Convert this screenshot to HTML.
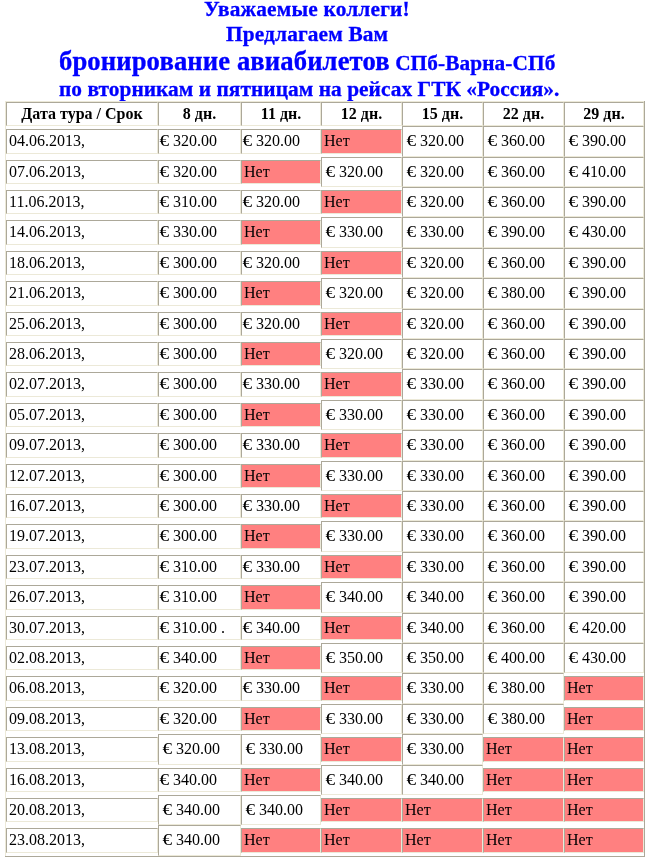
<!DOCTYPE html>
<html lang="ru"><head><meta charset="utf-8"><title>Бронирование авиабилетов</title>
<style>
html,body{margin:0;padding:0;background:#fff}
body{width:648px;height:857px;position:relative;overflow:hidden;font-family:"Liberation Serif","Times New Roman",serif;font-size:16px;color:#000}
.c{position:absolute;box-sizing:border-box;border:1px solid #aca899;border-right-color:#ece9d8;border-bottom-color:#ece9d8;background:#fff;white-space:nowrap;overflow:hidden}
.p{background:#ff8080}
.c span{position:absolute;left:2px;line-height:18px}
.f span{left:5px}
.c i{display:inline-block;font-style:normal;transform:scaleX(1.2);transform-origin:100% 50%}
.h{text-align:center;font-weight:bold}
.h span{left:0;right:0}
.t{position:absolute;white-space:nowrap;color:#00f;font-weight:bold;line-height:1;-webkit-text-stroke:0.3px #00f}
.b{position:absolute;background:#ece9d8}
.d{position:absolute;background:#aca899}
</style></head><body>
<div class="t" id="t1" style="left:204px;top:-1px;font-size:21.33px;letter-spacing:0.18px">Уважаемые коллеги!</div>
<div class="t" id="t2" style="left:226px;top:24px;font-size:21.33px;letter-spacing:0.15px">Предлагаем Вам</div>
<div class="t" id="t3" style="left:59px;top:48px;font-size:21.33px;letter-spacing:0.08px"><span style="font-size:26.67px;letter-spacing:0.1px">бронирование авиабилетов</span> СПб-Варна-СПб</div>
<div class="t" id="t4" style="left:59px;top:79px;font-size:21.33px;letter-spacing:0.055px">по вторникам и пятницам на рейсах ГТК «Россия».</div>
<div class="b" style="left:5px;top:101px;width:640px;height:1px"></div><div class="b" style="left:5px;top:101px;width:1px;height:756px"></div><div class="d" style="left:644px;top:101px;width:1px;height:756px"></div><div class="d" style="left:5px;top:856px;width:640px;height:1px"></div>
<div class="c h" style="left:6px;top:102px;width:152px;height:24px"><span style="top:2px">Дата тура / Срок</span></div><div class="c h" style="left:158px;top:102px;width:83px;height:24px"><span style="top:2px">8 дн.</span></div><div class="c h" style="left:241px;top:102px;width:80px;height:24px"><span style="top:2px">11 дн.</span></div><div class="c h" style="left:321px;top:102px;width:81px;height:24px"><span style="top:2px">12 дн.</span></div><div class="c h" style="left:402px;top:102px;width:81px;height:24px"><span style="top:2px">15 дн.</span></div><div class="c h" style="left:483px;top:102px;width:81px;height:24px"><span style="top:2px">22 дн.</span></div><div class="c h" style="left:564px;top:102px;width:80px;height:24px"><span style="top:2px">29 дн.</span></div>
<div class="c" style="left:6px;top:129px;width:152px;height:25px"><span style="top:2px">04.06.2013,</span></div><div class="c" style="left:158px;top:129px;width:83px;height:25px"><span style="top:2px"><i>€</i> 320.00</span></div><div class="c" style="left:241px;top:129px;width:80px;height:25px"><span style="top:2px"><i>€</i> 320.00</span></div><div class="c p" style="left:321px;top:129px;width:81px;height:25px"><span style="top:2px">Нет</span></div><div class="c f" style="left:402px;top:126px;width:81px;height:31px"><span style="top:5px"><i>€</i> 320.00</span></div><div class="c f" style="left:483px;top:126px;width:81px;height:31px"><span style="top:5px"><i>€</i> 360.00</span></div><div class="c f" style="left:564px;top:126px;width:80px;height:31px"><span style="top:5px"><i>€</i> 390.00</span></div>
<div class="c" style="left:6px;top:160px;width:152px;height:24px"><span style="top:2px">07.06.2013,</span></div><div class="c" style="left:158px;top:160px;width:83px;height:24px"><span style="top:2px"><i>€</i> 320.00</span></div><div class="c p" style="left:241px;top:160px;width:80px;height:24px"><span style="top:2px">Нет</span></div><div class="c f" style="left:321px;top:157px;width:81px;height:30px"><span style="top:5px"><i>€</i> 320.00</span></div><div class="c f" style="left:402px;top:157px;width:81px;height:30px"><span style="top:5px"><i>€</i> 320.00</span></div><div class="c f" style="left:483px;top:157px;width:81px;height:30px"><span style="top:5px"><i>€</i> 360.00</span></div><div class="c f" style="left:564px;top:157px;width:80px;height:30px"><span style="top:5px"><i>€</i> 410.00</span></div>
<div class="c" style="left:6px;top:190px;width:152px;height:24px"><span style="top:2px">11.06.2013,</span></div><div class="c" style="left:158px;top:190px;width:83px;height:24px"><span style="top:2px"><i>€</i> 310.00</span></div><div class="c" style="left:241px;top:190px;width:80px;height:24px"><span style="top:2px"><i>€</i> 320.00</span></div><div class="c p" style="left:321px;top:190px;width:81px;height:24px"><span style="top:2px">Нет</span></div><div class="c f" style="left:402px;top:187px;width:81px;height:30px"><span style="top:5px"><i>€</i> 320.00</span></div><div class="c f" style="left:483px;top:187px;width:81px;height:30px"><span style="top:5px"><i>€</i> 360.00</span></div><div class="c f" style="left:564px;top:187px;width:80px;height:30px"><span style="top:5px"><i>€</i> 390.00</span></div>
<div class="c" style="left:6px;top:220px;width:152px;height:25px"><span style="top:2px">14.06.2013,</span></div><div class="c" style="left:158px;top:220px;width:83px;height:25px"><span style="top:2px"><i>€</i> 330.00</span></div><div class="c p" style="left:241px;top:220px;width:80px;height:25px"><span style="top:2px">Нет</span></div><div class="c f" style="left:321px;top:217px;width:81px;height:31px"><span style="top:5px"><i>€</i> 330.00</span></div><div class="c f" style="left:402px;top:217px;width:81px;height:31px"><span style="top:5px"><i>€</i> 330.00</span></div><div class="c f" style="left:483px;top:217px;width:81px;height:31px"><span style="top:5px"><i>€</i> 390.00</span></div><div class="c f" style="left:564px;top:217px;width:80px;height:31px"><span style="top:5px"><i>€</i> 430.00</span></div>
<div class="c" style="left:6px;top:251px;width:152px;height:24px"><span style="top:2px">18.06.2013,</span></div><div class="c" style="left:158px;top:251px;width:83px;height:24px"><span style="top:2px"><i>€</i> 300.00</span></div><div class="c" style="left:241px;top:251px;width:80px;height:24px"><span style="top:2px"><i>€</i> 320.00</span></div><div class="c p" style="left:321px;top:251px;width:81px;height:24px"><span style="top:2px">Нет</span></div><div class="c f" style="left:402px;top:248px;width:81px;height:30px"><span style="top:5px"><i>€</i> 320.00</span></div><div class="c f" style="left:483px;top:248px;width:81px;height:30px"><span style="top:5px"><i>€</i> 360.00</span></div><div class="c f" style="left:564px;top:248px;width:80px;height:30px"><span style="top:5px"><i>€</i> 390.00</span></div>
<div class="c" style="left:6px;top:281px;width:152px;height:25px"><span style="top:2px">21.06.2013,</span></div><div class="c" style="left:158px;top:281px;width:83px;height:25px"><span style="top:2px"><i>€</i> 300.00</span></div><div class="c p" style="left:241px;top:281px;width:80px;height:25px"><span style="top:2px">Нет</span></div><div class="c f" style="left:321px;top:278px;width:81px;height:31px"><span style="top:5px"><i>€</i> 320.00</span></div><div class="c f" style="left:402px;top:278px;width:81px;height:31px"><span style="top:5px"><i>€</i> 320.00</span></div><div class="c f" style="left:483px;top:278px;width:81px;height:31px"><span style="top:5px"><i>€</i> 380.00</span></div><div class="c f" style="left:564px;top:278px;width:80px;height:31px"><span style="top:5px"><i>€</i> 390.00</span></div>
<div class="c" style="left:6px;top:312px;width:152px;height:24px"><span style="top:2px">25.06.2013,</span></div><div class="c" style="left:158px;top:312px;width:83px;height:24px"><span style="top:2px"><i>€</i> 300.00</span></div><div class="c" style="left:241px;top:312px;width:80px;height:24px"><span style="top:2px"><i>€</i> 320.00</span></div><div class="c p" style="left:321px;top:312px;width:81px;height:24px"><span style="top:2px">Нет</span></div><div class="c f" style="left:402px;top:309px;width:81px;height:30px"><span style="top:5px"><i>€</i> 320.00</span></div><div class="c f" style="left:483px;top:309px;width:81px;height:30px"><span style="top:5px"><i>€</i> 360.00</span></div><div class="c f" style="left:564px;top:309px;width:80px;height:30px"><span style="top:5px"><i>€</i> 390.00</span></div>
<div class="c" style="left:6px;top:342px;width:152px;height:24px"><span style="top:2px">28.06.2013,</span></div><div class="c" style="left:158px;top:342px;width:83px;height:24px"><span style="top:2px"><i>€</i> 300.00</span></div><div class="c p" style="left:241px;top:342px;width:80px;height:24px"><span style="top:2px">Нет</span></div><div class="c f" style="left:321px;top:339px;width:81px;height:30px"><span style="top:5px"><i>€</i> 320.00</span></div><div class="c f" style="left:402px;top:339px;width:81px;height:30px"><span style="top:5px"><i>€</i> 320.00</span></div><div class="c f" style="left:483px;top:339px;width:81px;height:30px"><span style="top:5px"><i>€</i> 360.00</span></div><div class="c f" style="left:564px;top:339px;width:80px;height:30px"><span style="top:5px"><i>€</i> 390.00</span></div>
<div class="c" style="left:6px;top:372px;width:152px;height:25px"><span style="top:2px">02.07.2013,</span></div><div class="c" style="left:158px;top:372px;width:83px;height:25px"><span style="top:2px"><i>€</i> 300.00</span></div><div class="c" style="left:241px;top:372px;width:80px;height:25px"><span style="top:2px"><i>€</i> 330.00</span></div><div class="c p" style="left:321px;top:372px;width:81px;height:25px"><span style="top:2px">Нет</span></div><div class="c f" style="left:402px;top:369px;width:81px;height:31px"><span style="top:5px"><i>€</i> 330.00</span></div><div class="c f" style="left:483px;top:369px;width:81px;height:31px"><span style="top:5px"><i>€</i> 360.00</span></div><div class="c f" style="left:564px;top:369px;width:80px;height:31px"><span style="top:5px"><i>€</i> 390.00</span></div>
<div class="c" style="left:6px;top:403px;width:152px;height:24px"><span style="top:2px">05.07.2013,</span></div><div class="c" style="left:158px;top:403px;width:83px;height:24px"><span style="top:2px"><i>€</i> 300.00</span></div><div class="c p" style="left:241px;top:403px;width:80px;height:24px"><span style="top:2px">Нет</span></div><div class="c f" style="left:321px;top:400px;width:81px;height:30px"><span style="top:5px"><i>€</i> 330.00</span></div><div class="c f" style="left:402px;top:400px;width:81px;height:30px"><span style="top:5px"><i>€</i> 330.00</span></div><div class="c f" style="left:483px;top:400px;width:81px;height:30px"><span style="top:5px"><i>€</i> 360.00</span></div><div class="c f" style="left:564px;top:400px;width:80px;height:30px"><span style="top:5px"><i>€</i> 390.00</span></div>
<div class="c" style="left:6px;top:433px;width:152px;height:25px"><span style="top:2px">09.07.2013,</span></div><div class="c" style="left:158px;top:433px;width:83px;height:25px"><span style="top:2px"><i>€</i> 300.00</span></div><div class="c" style="left:241px;top:433px;width:80px;height:25px"><span style="top:2px"><i>€</i> 330.00</span></div><div class="c p" style="left:321px;top:433px;width:81px;height:25px"><span style="top:2px">Нет</span></div><div class="c f" style="left:402px;top:430px;width:81px;height:31px"><span style="top:5px"><i>€</i> 330.00</span></div><div class="c f" style="left:483px;top:430px;width:81px;height:31px"><span style="top:5px"><i>€</i> 360.00</span></div><div class="c f" style="left:564px;top:430px;width:80px;height:31px"><span style="top:5px"><i>€</i> 390.00</span></div>
<div class="c" style="left:6px;top:464px;width:152px;height:24px"><span style="top:2px">12.07.2013,</span></div><div class="c" style="left:158px;top:464px;width:83px;height:24px"><span style="top:2px"><i>€</i> 300.00</span></div><div class="c p" style="left:241px;top:464px;width:80px;height:24px"><span style="top:2px">Нет</span></div><div class="c f" style="left:321px;top:461px;width:81px;height:30px"><span style="top:5px"><i>€</i> 330.00</span></div><div class="c f" style="left:402px;top:461px;width:81px;height:30px"><span style="top:5px"><i>€</i> 330.00</span></div><div class="c f" style="left:483px;top:461px;width:81px;height:30px"><span style="top:5px"><i>€</i> 360.00</span></div><div class="c f" style="left:564px;top:461px;width:80px;height:30px"><span style="top:5px"><i>€</i> 390.00</span></div>
<div class="c" style="left:6px;top:494px;width:152px;height:24px"><span style="top:2px">16.07.2013,</span></div><div class="c" style="left:158px;top:494px;width:83px;height:24px"><span style="top:2px"><i>€</i> 300.00</span></div><div class="c" style="left:241px;top:494px;width:80px;height:24px"><span style="top:2px"><i>€</i> 330.00</span></div><div class="c p" style="left:321px;top:494px;width:81px;height:24px"><span style="top:2px">Нет</span></div><div class="c f" style="left:402px;top:491px;width:81px;height:30px"><span style="top:5px"><i>€</i> 330.00</span></div><div class="c f" style="left:483px;top:491px;width:81px;height:30px"><span style="top:5px"><i>€</i> 360.00</span></div><div class="c f" style="left:564px;top:491px;width:80px;height:30px"><span style="top:5px"><i>€</i> 390.00</span></div>
<div class="c" style="left:6px;top:524px;width:152px;height:25px"><span style="top:2px">19.07.2013,</span></div><div class="c" style="left:158px;top:524px;width:83px;height:25px"><span style="top:2px"><i>€</i> 300.00</span></div><div class="c p" style="left:241px;top:524px;width:80px;height:25px"><span style="top:2px">Нет</span></div><div class="c f" style="left:321px;top:521px;width:81px;height:31px"><span style="top:5px"><i>€</i> 330.00</span></div><div class="c f" style="left:402px;top:521px;width:81px;height:31px"><span style="top:5px"><i>€</i> 330.00</span></div><div class="c f" style="left:483px;top:521px;width:81px;height:31px"><span style="top:5px"><i>€</i> 360.00</span></div><div class="c f" style="left:564px;top:521px;width:80px;height:31px"><span style="top:5px"><i>€</i> 390.00</span></div>
<div class="c" style="left:6px;top:555px;width:152px;height:24px"><span style="top:2px">23.07.2013,</span></div><div class="c" style="left:158px;top:555px;width:83px;height:24px"><span style="top:2px"><i>€</i> 310.00</span></div><div class="c" style="left:241px;top:555px;width:80px;height:24px"><span style="top:2px"><i>€</i> 330.00</span></div><div class="c p" style="left:321px;top:555px;width:81px;height:24px"><span style="top:2px">Нет</span></div><div class="c f" style="left:402px;top:552px;width:81px;height:30px"><span style="top:5px"><i>€</i> 330.00</span></div><div class="c f" style="left:483px;top:552px;width:81px;height:30px"><span style="top:5px"><i>€</i> 360.00</span></div><div class="c f" style="left:564px;top:552px;width:80px;height:30px"><span style="top:5px"><i>€</i> 390.00</span></div>
<div class="c" style="left:6px;top:585px;width:152px;height:25px"><span style="top:2px">26.07.2013,</span></div><div class="c" style="left:158px;top:585px;width:83px;height:25px"><span style="top:2px"><i>€</i> 310.00</span></div><div class="c p" style="left:241px;top:585px;width:80px;height:25px"><span style="top:2px">Нет</span></div><div class="c f" style="left:321px;top:582px;width:81px;height:31px"><span style="top:5px"><i>€</i> 340.00</span></div><div class="c f" style="left:402px;top:582px;width:81px;height:31px"><span style="top:5px"><i>€</i> 340.00</span></div><div class="c f" style="left:483px;top:582px;width:81px;height:31px"><span style="top:5px"><i>€</i> 360.00</span></div><div class="c f" style="left:564px;top:582px;width:80px;height:31px"><span style="top:5px"><i>€</i> 390.00</span></div>
<div class="c" style="left:6px;top:616px;width:152px;height:24px"><span style="top:2px">30.07.2013,</span></div><div class="c" style="left:158px;top:616px;width:83px;height:24px"><span style="top:2px"><i>€</i> 310.00 .</span></div><div class="c" style="left:241px;top:616px;width:80px;height:24px"><span style="top:2px"><i>€</i> 340.00</span></div><div class="c p" style="left:321px;top:616px;width:81px;height:24px"><span style="top:2px">Нет</span></div><div class="c f" style="left:402px;top:613px;width:81px;height:30px"><span style="top:5px"><i>€</i> 340.00</span></div><div class="c f" style="left:483px;top:613px;width:81px;height:30px"><span style="top:5px"><i>€</i> 360.00</span></div><div class="c f" style="left:564px;top:613px;width:80px;height:30px"><span style="top:5px"><i>€</i> 420.00</span></div>
<div class="c" style="left:6px;top:646px;width:152px;height:24px"><span style="top:2px">02.08.2013,</span></div><div class="c" style="left:158px;top:646px;width:83px;height:24px"><span style="top:2px"><i>€</i> 340.00</span></div><div class="c p" style="left:241px;top:646px;width:80px;height:24px"><span style="top:2px">Нет</span></div><div class="c f" style="left:321px;top:643px;width:81px;height:30px"><span style="top:5px"><i>€</i> 350.00</span></div><div class="c f" style="left:402px;top:643px;width:81px;height:30px"><span style="top:5px"><i>€</i> 350.00</span></div><div class="c f" style="left:483px;top:643px;width:81px;height:30px"><span style="top:5px"><i>€</i> 400.00</span></div><div class="c f" style="left:564px;top:643px;width:80px;height:30px"><span style="top:5px"><i>€</i> 430.00</span></div>
<div class="c" style="left:6px;top:676px;width:152px;height:25px"><span style="top:2px">06.08.2013,</span></div><div class="c" style="left:158px;top:676px;width:83px;height:25px"><span style="top:2px"><i>€</i> 320.00</span></div><div class="c" style="left:241px;top:676px;width:80px;height:25px"><span style="top:2px"><i>€</i> 330.00</span></div><div class="c p" style="left:321px;top:676px;width:81px;height:25px"><span style="top:2px">Нет</span></div><div class="c f" style="left:402px;top:673px;width:81px;height:31px"><span style="top:5px"><i>€</i> 330.00</span></div><div class="c f" style="left:483px;top:673px;width:81px;height:31px"><span style="top:5px"><i>€</i> 380.00</span></div><div class="c p" style="left:564px;top:676px;width:80px;height:25px"><span style="top:2px">Нет</span></div>
<div class="c" style="left:6px;top:707px;width:152px;height:24px"><span style="top:2px">09.08.2013,</span></div><div class="c" style="left:158px;top:707px;width:83px;height:24px"><span style="top:2px"><i>€</i> 320.00</span></div><div class="c p" style="left:241px;top:707px;width:80px;height:24px"><span style="top:2px">Нет</span></div><div class="c f" style="left:321px;top:704px;width:81px;height:30px"><span style="top:5px"><i>€</i> 330.00</span></div><div class="c f" style="left:402px;top:704px;width:81px;height:30px"><span style="top:5px"><i>€</i> 330.00</span></div><div class="c f" style="left:483px;top:704px;width:81px;height:30px"><span style="top:5px"><i>€</i> 380.00</span></div><div class="c p" style="left:564px;top:707px;width:80px;height:24px"><span style="top:2px">Нет</span></div>
<div class="c" style="left:6px;top:737px;width:152px;height:25px"><span style="top:2px">13.08.2013,</span></div><div class="c f" style="left:158px;top:734px;width:83px;height:31px"><span style="top:5px"><i>€</i> 320.00</span></div><div class="c f" style="left:241px;top:734px;width:80px;height:31px"><span style="top:5px"><i>€</i> 330.00</span></div><div class="c p" style="left:321px;top:737px;width:81px;height:25px"><span style="top:2px">Нет</span></div><div class="c f" style="left:402px;top:734px;width:81px;height:31px"><span style="top:5px"><i>€</i> 330.00</span></div><div class="c p" style="left:483px;top:737px;width:81px;height:25px"><span style="top:2px">Нет</span></div><div class="c p" style="left:564px;top:737px;width:80px;height:25px"><span style="top:2px">Нет</span></div>
<div class="c" style="left:6px;top:768px;width:152px;height:24px"><span style="top:2px">16.08.2013,</span></div><div class="c" style="left:158px;top:768px;width:83px;height:24px"><span style="top:2px"><i>€</i> 340.00</span></div><div class="c p" style="left:241px;top:768px;width:80px;height:24px"><span style="top:2px">Нет</span></div><div class="c f" style="left:321px;top:765px;width:81px;height:30px"><span style="top:5px"><i>€</i> 340.00</span></div><div class="c f" style="left:402px;top:765px;width:81px;height:30px"><span style="top:5px"><i>€</i> 340.00</span></div><div class="c p" style="left:483px;top:768px;width:81px;height:24px"><span style="top:2px">Нет</span></div><div class="c p" style="left:564px;top:768px;width:80px;height:24px"><span style="top:2px">Нет</span></div>
<div class="c" style="left:6px;top:798px;width:152px;height:24px"><span style="top:2px">20.08.2013,</span></div><div class="c f" style="left:158px;top:795px;width:83px;height:30px"><span style="top:5px"><i>€</i> 340.00</span></div><div class="c f" style="left:241px;top:795px;width:80px;height:30px"><span style="top:5px"><i>€</i> 340.00</span></div><div class="c p" style="left:321px;top:798px;width:81px;height:24px"><span style="top:2px">Нет</span></div><div class="c p" style="left:402px;top:798px;width:81px;height:24px"><span style="top:2px">Нет</span></div><div class="c p" style="left:483px;top:798px;width:81px;height:24px"><span style="top:2px">Нет</span></div><div class="c p" style="left:564px;top:798px;width:80px;height:24px"><span style="top:2px">Нет</span></div>
<div class="c" style="left:6px;top:828px;width:152px;height:25px"><span style="top:2px">23.08.2013,</span></div><div class="c f" style="left:158px;top:825px;width:83px;height:31px"><span style="top:5px"><i>€</i> 340.00</span></div><div class="c p" style="left:241px;top:828px;width:80px;height:25px"><span style="top:2px">Нет</span></div><div class="c p" style="left:321px;top:828px;width:81px;height:25px"><span style="top:2px">Нет</span></div><div class="c p" style="left:402px;top:828px;width:81px;height:25px"><span style="top:2px">Нет</span></div><div class="c p" style="left:483px;top:828px;width:81px;height:25px"><span style="top:2px">Нет</span></div><div class="c p" style="left:564px;top:828px;width:80px;height:25px"><span style="top:2px">Нет</span></div>
</body></html>
